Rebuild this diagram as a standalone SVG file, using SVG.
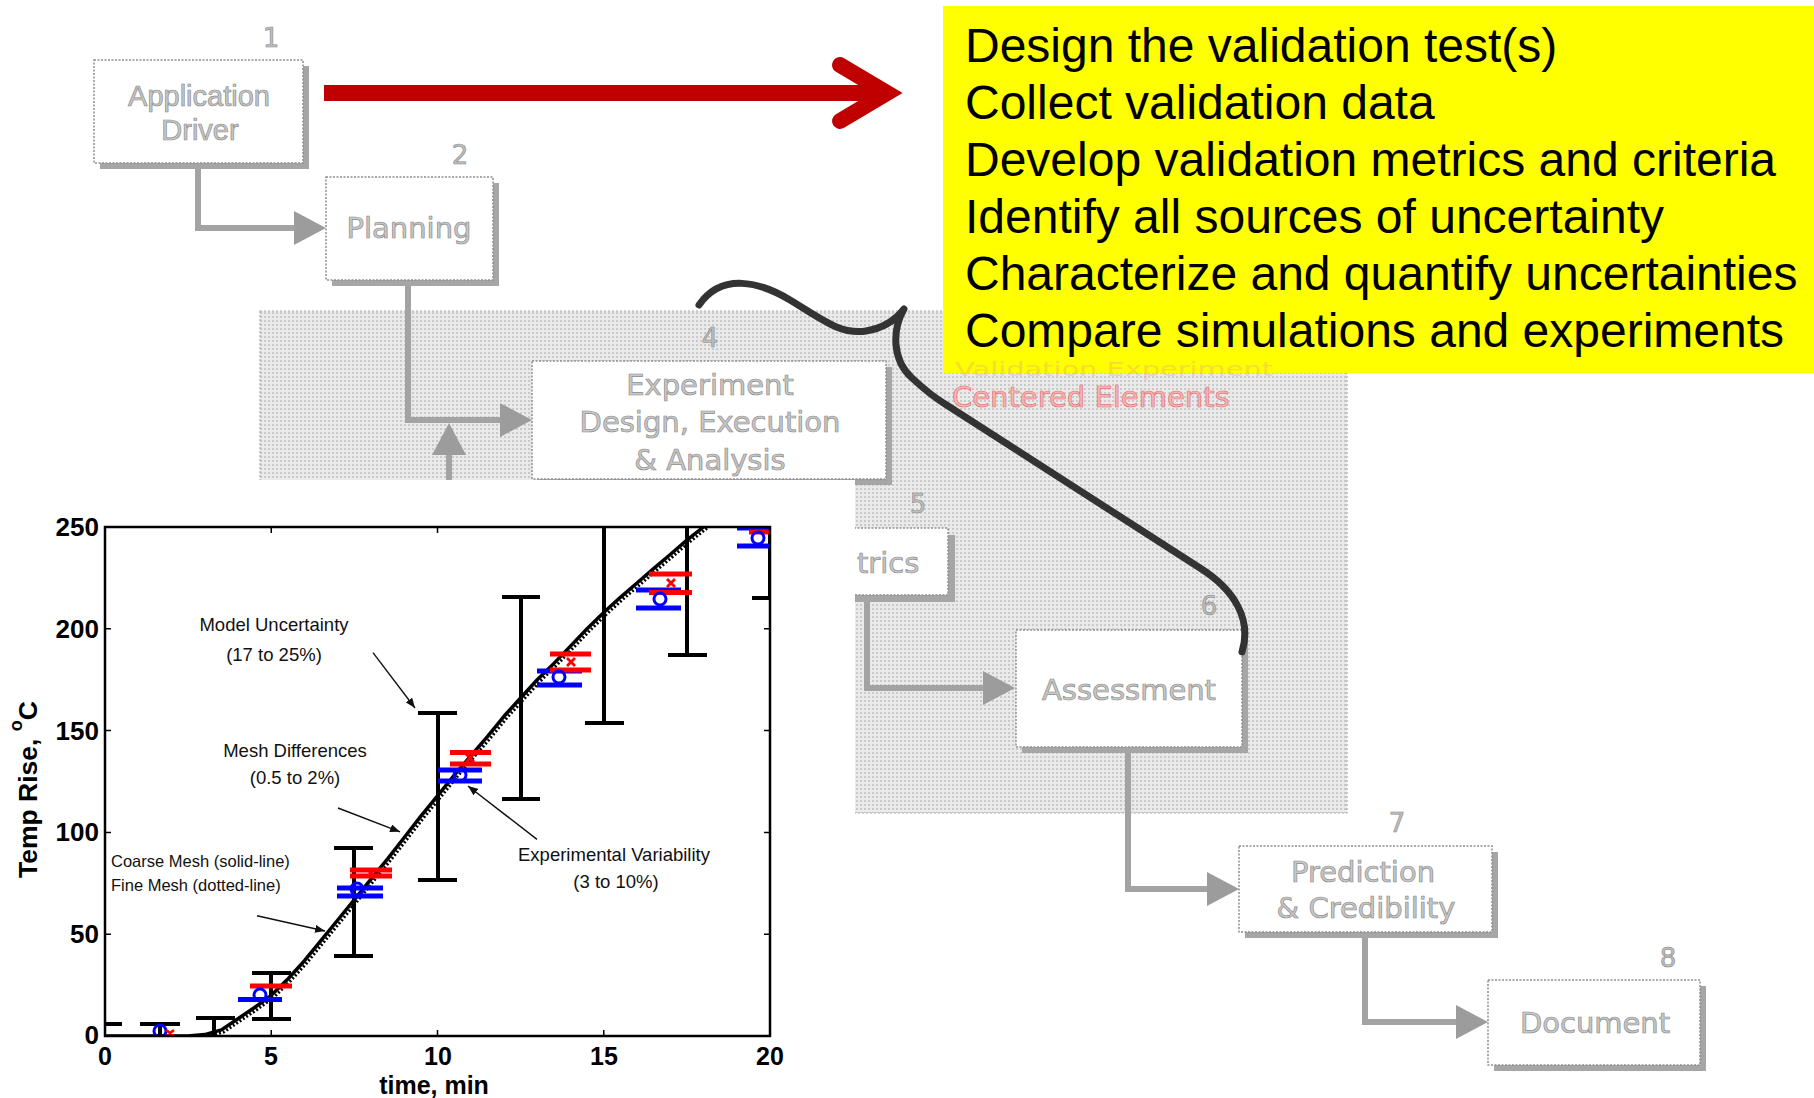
<svg xmlns="http://www.w3.org/2000/svg" width="1814" height="1098" viewBox="0 0 1814 1098">
<style>
.box{fill:#fff;stroke:#8f8f8f;stroke-width:1.5;stroke-dasharray:2 1.5}
.shadow{fill:#a6a6a6}
.ntext{font-family:"DejaVu Sans",sans-serif;font-size:29px;fill:#c8c8c8;stroke:#8c8c8c;stroke-width:0.7;text-anchor:middle}
.atext{font-family:"Liberation Sans",Arial,sans-serif;font-size:29px;fill:#c8c8c8;stroke:#8c8c8c;stroke-width:0.7;text-anchor:middle}
.num{font-family:"DejaVu Sans",sans-serif;font-size:26px;fill:#bdbdbd;stroke:#8a8a8a;stroke-width:0.6;text-anchor:middle}
.conn{fill:none;stroke:#a3a3a3;stroke-width:6}
.yl{font-family:"Liberation Sans",Arial,sans-serif;font-size:48px;fill:#000}
.tick{font-family:"Liberation Sans",Arial,sans-serif;font-weight:bold;font-size:25px;fill:#000}
.ann{font-family:"Liberation Sans",Arial,sans-serif;font-size:18.5px;fill:#111;text-anchor:middle}
.ann2{font-family:"Liberation Sans",Arial,sans-serif;font-size:16.5px;fill:#111}
.eb{stroke:#000;stroke-width:4;fill:none}
.bb{stroke:#0000ff;stroke-width:5}
.rb{stroke:#ff0000;stroke-width:5}
.rm{stroke:#ff0000;stroke-width:2.8}
.bc{fill:none;stroke:#0000ff;stroke-width:3}
.ax{fill:none;stroke:#000;stroke-width:2.5}
.tk{stroke:#000;stroke-width:1.5}
.pa{stroke:#111;stroke-width:1.4;fill:none}
</style>
<defs>
<pattern id="halftone" width="4" height="4" patternUnits="userSpaceOnUse">
<rect width="4" height="4" fill="#eaeaea"/><rect width="2" height="2" fill="#c9c9c9"/>
</pattern>
<marker id="ah" markerWidth="32" markerHeight="34" refX="0" refY="17" orient="auto" markerUnits="userSpaceOnUse">
<path d="M0,0 L32,17 L0,34 Z" fill="#9c9c9c"/>
</marker>
<marker id="sa" markerWidth="10" markerHeight="8" refX="10" refY="4" orient="auto" markerUnits="userSpaceOnUse">
<path d="M0,0 L10,4 L0,8 Z" fill="#111"/>
</marker>
<clipPath id="axclip"><rect x="105" y="527" width="665" height="509"/></clipPath>
</defs>

<rect width="1814" height="1098" fill="#fff"/>

<g id="region">
<rect x="260" y="311" width="1087" height="502" fill="url(#halftone)" stroke="#a8a8a8" stroke-width="1.2" stroke-dasharray="2 2"/>
</g>

<g id="connectors">
<path class="conn" d="M198,168 V228 H294" marker-end="url(#ah)"/>
<path class="conn" d="M408,285 V420 H500" marker-end="url(#ah)"/>
<path class="conn" d="M449,480 V455" marker-end="url(#ah)"/>
<path class="conn" d="M867,602 V688 H983" marker-end="url(#ah)"/>
<path class="conn" d="M1128,753 V889 H1207" marker-end="url(#ah)"/>
<path class="conn" d="M1365,937 V1022 H1456" marker-end="url(#ah)"/>
</g>

<g id="node1">
<rect class="shadow" x="100" y="66" width="209" height="103"/>
<rect class="box" x="94" y="60" width="209" height="103"/>
<text class="atext" x="199" y="106">Application</text>
<text class="atext" x="200" y="140">Driver</text>
<text class="num" x="271" y="47">1</text>
</g>

<g id="node2">
<rect class="shadow" x="332" y="183" width="167" height="103"/>
<rect class="box" x="326" y="177" width="167" height="103"/>
<text class="ntext" x="409" y="238">Planning</text>
<text class="num" x="460" y="164">2</text>
</g>

<g id="node4">
<rect class="shadow" x="538" y="367" width="354" height="118"/>
<rect class="box" x="532" y="361" width="354" height="118"/>
<text class="ntext" x="710" y="395">Experiment</text>
<text class="ntext" x="710" y="432">Design, Execution</text>
<text class="ntext" x="710" y="470">&amp; Analysis</text>
<text class="num" x="710" y="347">4</text>
</g>

<g id="node5">
<rect class="shadow" x="707" y="535" width="248" height="67"/>
<rect class="box" x="700" y="528" width="248" height="67"/>
<text class="ntext" x="857" y="573" style="text-anchor:start">trics</text>
<text class="num" x="918" y="513">5</text>
</g>

<g id="node6">
<rect class="shadow" x="1022" y="636" width="226" height="117"/>
<rect class="box" x="1016" y="630" width="226" height="117"/>
<text class="ntext" x="1129" y="700">Assessment</text>
<text class="num" x="1209" y="615">6</text>
</g>

<g id="node7">
<rect class="shadow" x="1245" y="852" width="253" height="86"/>
<rect class="box" x="1239" y="846" width="253" height="86"/>
<text class="ntext" x="1363" y="882">Prediction</text>
<text class="ntext" x="1366" y="918">&amp; Credibility</text>
<text class="num" x="1397" y="832">7</text>
</g>

<g id="node8">
<rect class="shadow" x="1494" y="986" width="212" height="85"/>
<rect class="box" x="1488" y="980" width="212" height="85"/>
<text class="ntext" x="1595" y="1033">Document</text>
<text class="num" x="1668" y="967">8</text>
</g>

<g id="region-label">
<text x="952" y="407" style="font-family:'DejaVu Sans',sans-serif;font-size:29px;fill:#f6b8b8;stroke:#e37272;stroke-width:0.7">Centered Elements</text>
</g>

<g id="red-arrow">
<path d="M324,93 H888" stroke="#c00000" stroke-width="16" fill="none"/>
<polyline points="840,65 887,93 840,121" stroke="#c00000" stroke-width="16" fill="none" stroke-linecap="round" stroke-linejoin="miter"/>
</g>

<g id="yellow-box">
<rect x="943" y="6" width="871" height="367" fill="#ffff00"/>
<text x="955" y="376" textLength="318" lengthAdjust="spacingAndGlyphs" style="font-family:'DejaVu Sans',sans-serif;font-size:19.5px;fill:#e8a080;opacity:0.35">Validation Experiment</text>
<text class="yl" x="965" y="62">Design the validation test(s)</text>
<text class="yl" x="965" y="119">Collect validation data</text>
<text class="yl" x="965" y="176">Develop validation metrics and criteria</text>
<text class="yl" x="965" y="233">Identify all sources of uncertainty</text>
<text class="yl" x="965" y="290">Characterize and quantify uncertainties</text>
<text class="yl" x="965" y="347">Compare simulations and experiments</text>
</g>

<g id="brace">
<path d="M699,305 C722,272 760,282 790,300 C820,318 840,335 866,331 C885,328 897,318 904,309 C892,330 892,360 912,378 C925,390 935,398 945,404 L1200,568 C1235,590 1252,620 1242,652" fill="none" stroke="#333" stroke-width="7" stroke-linecap="round" stroke-linejoin="round"/>
</g>

<g id="plot">
<rect x="0" y="480" width="855" height="618" fill="#fff"/>
<g clip-path="url(#axclip)">
<polyline points="105,1036 188.1,1036 204.75,1034.6 221.4,1029.9 238,1018.7 254.6,1007.5 271.25,995.3 287.9,979 304.5,960.7 321.1,940.3 337.75,920 354.4,899.6 371,879.2 387.6,858.9 404.25,837.5 420.9,816.1 437.5,795.8 454.1,775.4 470.75,756 487.4,736.7 504,716.3 520.6,698 537.25,679.7 553.9,663.4 570.5,646.1 587.1,628.8 603.75,612.5 620.4,597.3 637,583 653.6,568.7 670.25,554.5 686.9,540.2 703.5,527 710,521" fill="none" stroke="#000" stroke-width="3" stroke-dasharray="2 2" transform="translate(2.5,2)"/>
<polyline points="105,1036 188.1,1036 204.75,1034.6 221.4,1029.9 238,1018.7 254.6,1007.5 271.25,995.3 287.9,979 304.5,960.7 321.1,940.3 337.75,920 354.4,899.6 371,879.2 387.6,858.9 404.25,837.5 420.9,816.1 437.5,795.8 454.1,775.4 470.75,756 487.4,736.7 504,716.3 520.6,698 537.25,679.7 553.9,663.4 570.5,646.1 587.1,628.8 603.75,612.5 620.4,597.3 637,583 653.6,568.7 670.25,554.5 686.9,540.2 703.5,527 710,521" fill="none" stroke="#000" stroke-width="3.5" stroke-linejoin="round"/>
<path class="eb" d="M105,1024 H122 M140,1024 H180 M160,1024 V1036 M196,1018 H235 M214,1018 V1036 M252,973 H291 M252,1019 H291 M271,973 V1019 M334,848 H373 M334,956 H373 M354,848 V956 M418,713 H457 M418,880 H457 M438,713 V880 M502,597 H540 M502,799 H540 M521,597 V799 M585,723 H624 M604,520 V723 M668,655 H707 M687,520 V655 M752,598 H770 M770,520 V598"/>
<path class="bb" d="M238,999.5 H282 M337,888 H383 M337,896 H383 M438,770 H482 M438,781 H482 M537,671 H582 M537,685 H582 M636,590 H681 M636,608 H681 M737,546 H770 M737,528 H770"/>
<path class="rb" d="M250,986 H292 M350,870 H392 M350,876 H392 M450,752.5 H491 M450,764 H491 M550,654 H591 M550,670 H591 M649,574 H692 M649,592.5 H692 M749,532 H770"/>
<circle class="bc" cx="160" cy="1031" r="6"/>
<circle class="bc" cx="260" cy="995" r="6"/>
<circle class="bc" cx="357" cy="889" r="6"/>
<circle class="bc" cx="460" cy="775" r="6"/>
<circle class="bc" cx="559" cy="677" r="6"/>
<circle class="bc" cx="660" cy="599" r="6"/>
<circle class="bc" cx="758" cy="538" r="6"/>
<path class="rm" d="M166,1030 L174,1036 M166,1036 L174,1030 M367,869 L375,877 M367,877 L375,869 M466,754 L474,762 M466,762 L474,754 M567,658 L575,666 M567,666 L575,658 M667,579 L675,587 M667,587 L675,579"/>
</g>
<rect class="ax" x="105" y="527" width="665" height="509"/>
<path class="tk" d="M105,628.8 H111 M105,730.6 H111 M105,832.4 H111 M105,934.2 H111 M770,628.8 H764 M770,730.6 H764 M770,832.4 H764 M770,934.2 H764 M271.25,1036 V1030 M437.5,1036 V1030 M603.75,1036 V1030 M271.25,527 V533 M437.5,527 V533 M603.75,527 V533"/>
<g class="tick" text-anchor="end" style="font-size:26px">
<text x="99" y="536">250</text>
<text x="99" y="638">200</text>
<text x="99" y="740">150</text>
<text x="99" y="841">100</text>
<text x="99" y="943">50</text>
<text x="99" y="1044">0</text>
</g>
<g class="tick" text-anchor="middle">
<text x="105" y="1065">0</text>
<text x="271" y="1065">5</text>
<text x="438" y="1065">10</text>
<text x="604" y="1065">15</text>
<text x="770" y="1065">20</text>
<text x="434" y="1094">time, min</text>
</g>
<text class="tick" transform="translate(37,878) rotate(-90)" style="font-size:26.5px">Temp Rise, <tspan dy="-15" style="font-size:18px">o</tspan><tspan dy="15">C</tspan></text>
<path class="pa" d="M373,652.6 L415,708" marker-end="url(#sa)"/>
<path class="pa" d="M338,808 L400,831.8" marker-end="url(#sa)"/>
<path class="pa" d="M257,915.7 L325,931" marker-end="url(#sa)"/>
<path class="pa" d="M537,839.4 L468,786" marker-end="url(#sa)"/>
<text class="ann" x="274" y="631">Model Uncertainty</text>
<text class="ann" x="274" y="661">(17 to 25%)</text>
<text class="ann" x="295" y="757">Mesh Differences</text>
<text class="ann" x="295" y="784">(0.5 to 2%)</text>
<text class="ann2" x="111" y="867">Coarse Mesh (solid-line)</text>
<text class="ann2" x="111" y="891">Fine Mesh (dotted-line)</text>
<text class="ann" x="614" y="861">Experimental Variability</text>
<text class="ann" x="616" y="888">(3 to 10%)</text>
</g>
</svg>
